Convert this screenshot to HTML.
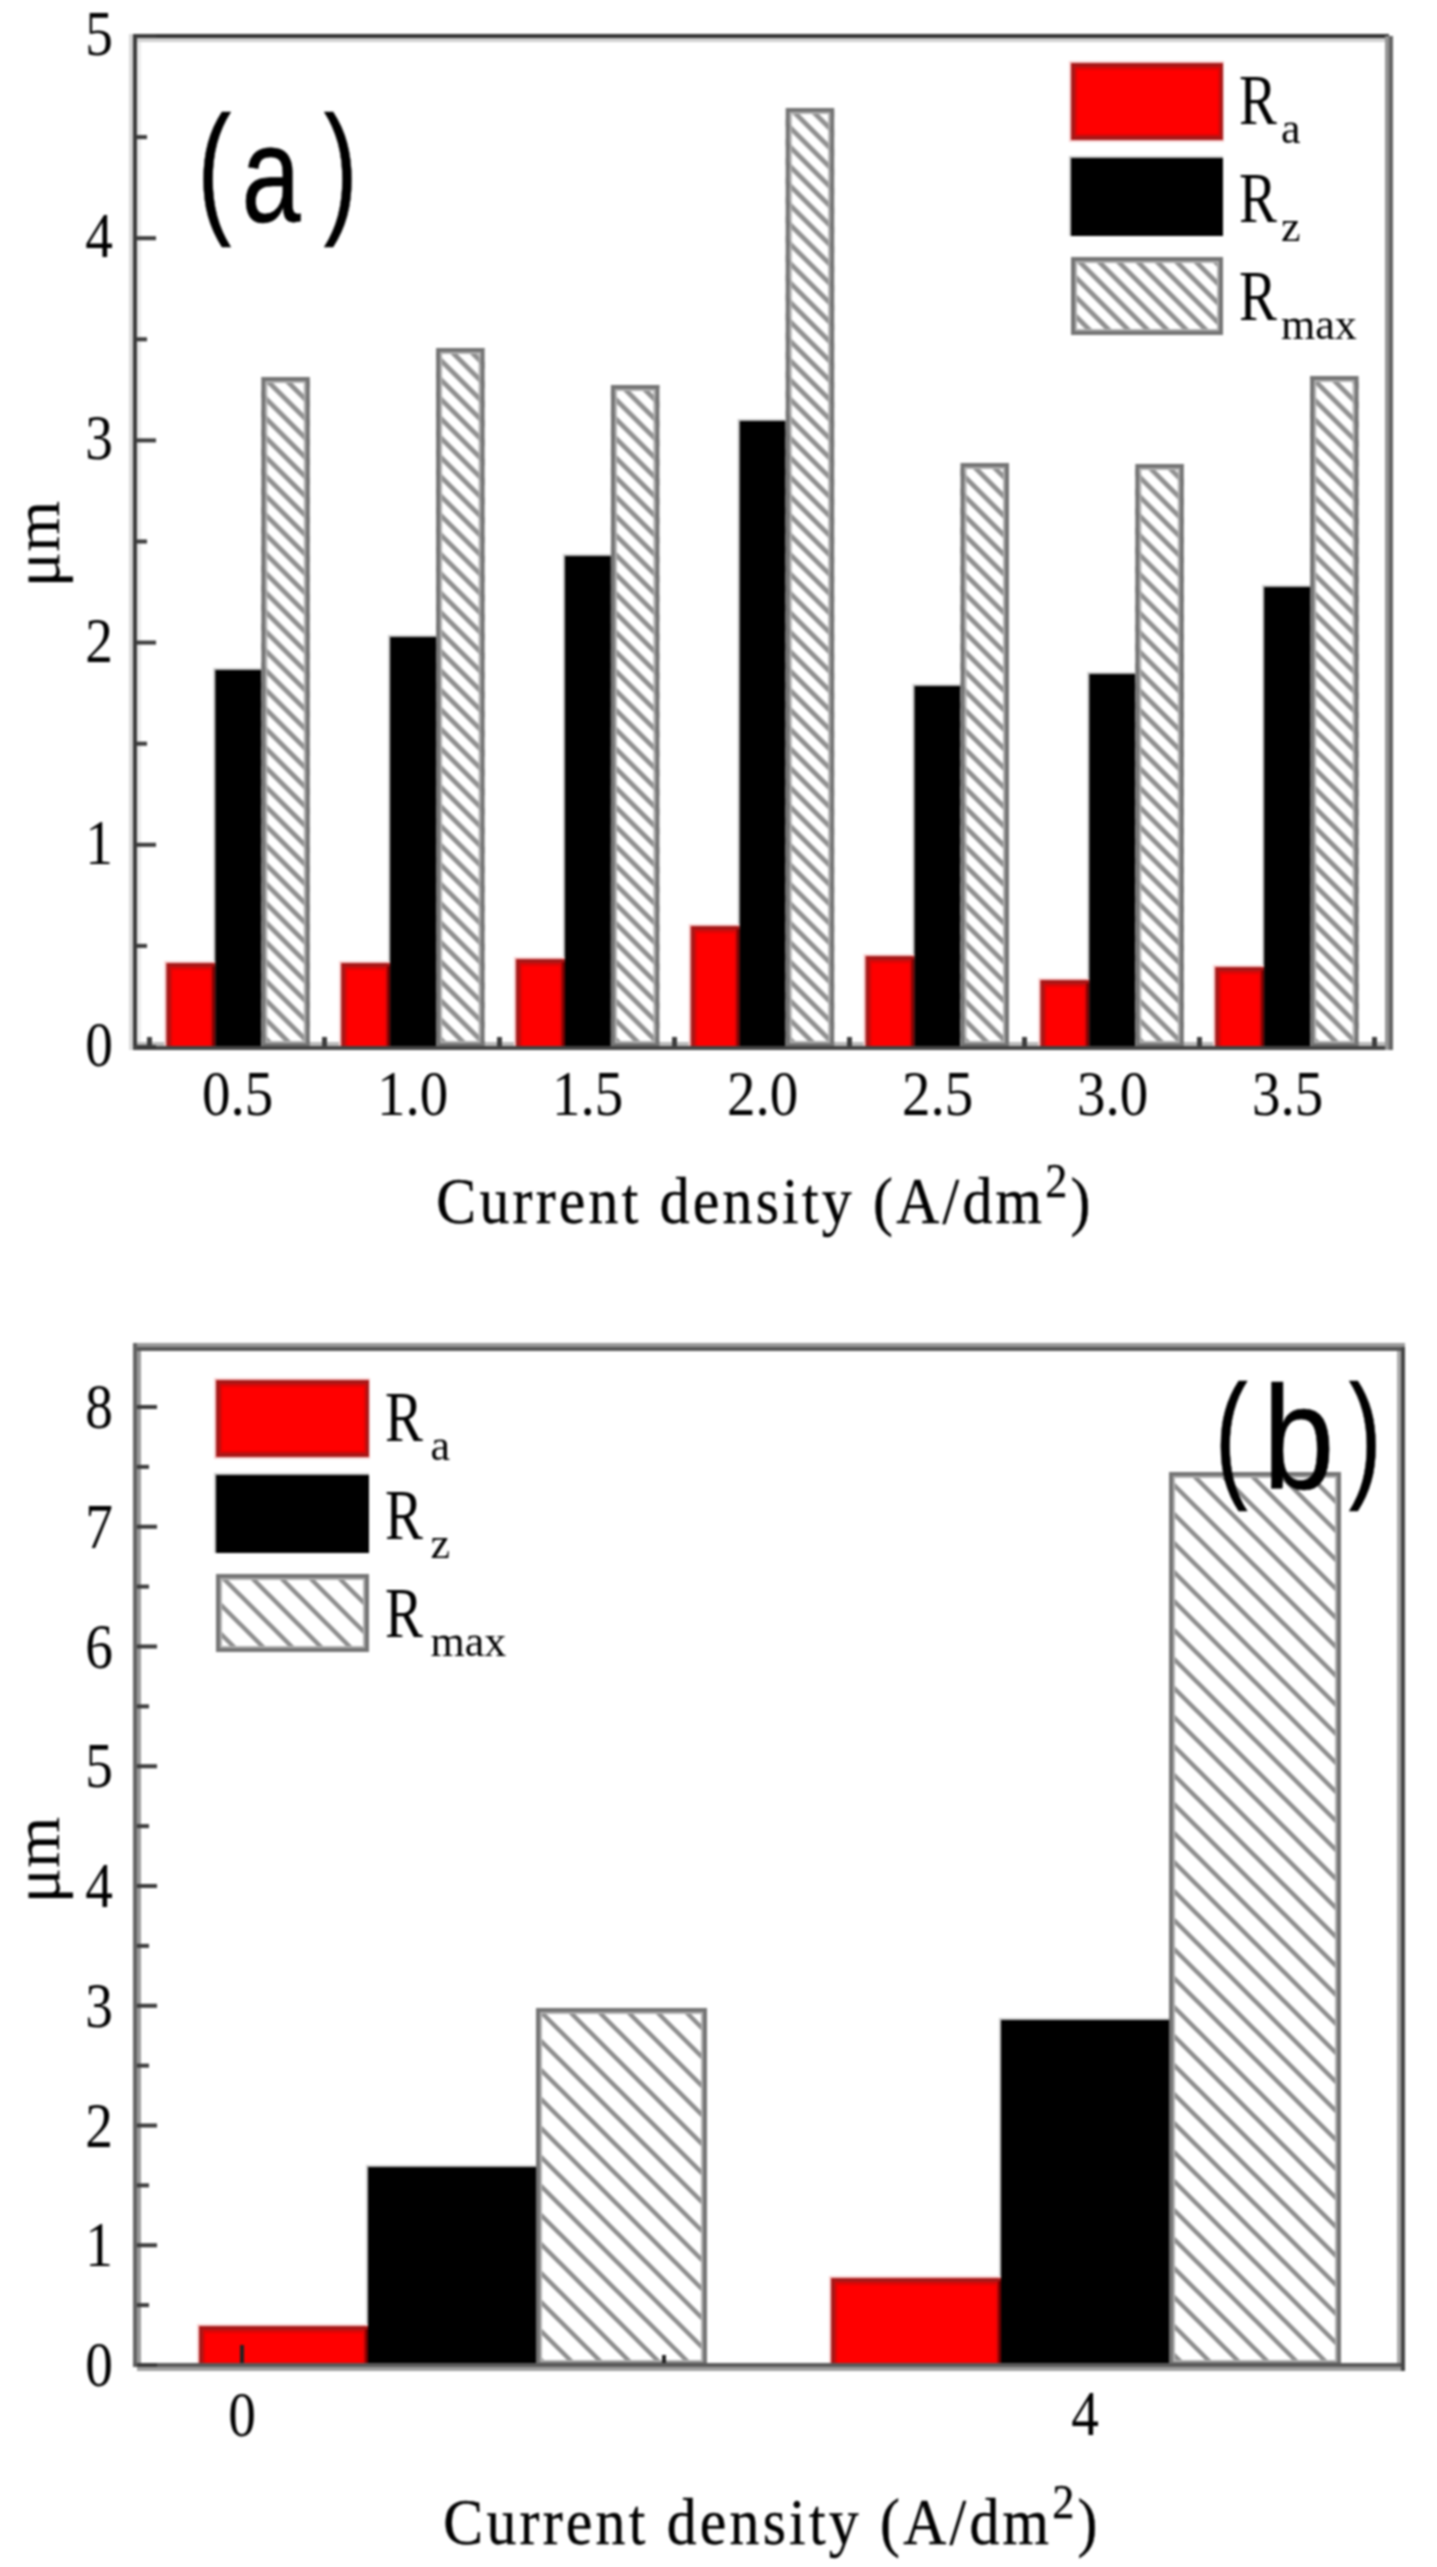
<!DOCTYPE html>
<html><head><meta charset="utf-8"><title>Surface roughness vs current density</title><style>html,body{margin:0;padding:0;background:#fff;overflow:hidden;}svg{display:block;filter:blur(1.2px);}</style></head><body>
<svg width="1437" height="2567" viewBox="0 0 1437 2567">
<defs>
<pattern id="ha" patternUnits="userSpaceOnUse" x="3" y="0" width="19.4" height="19.4"><rect width="19.4" height="19.4" fill="#fff"/><path d="M-9.7,9.7 L9.7,29.1 M0,0 L19.4,19.4 M9.7,-9.7 L29.1,9.7" stroke="#8e8e8e" stroke-width="4.8"/></pattern>
<pattern id="hb" patternUnits="userSpaceOnUse" x="8" y="0" width="29" height="29"><rect width="29" height="29" fill="#fff"/><path d="M-14.5,14.5 L14.5,43.5 M0,0 L29,29 M14.5,-14.5 L43.5,14.5" stroke="#8c8c8c" stroke-width="4.4"/></pattern>
</defs>
<rect width="1437" height="2567" fill="#fff"/>
<g fill="#000">
<rect x="129" y="34" width="4" height="1016" fill="#d8d8d8"/>
<rect x="137" y="38" width="4" height="1004" fill="#ececec"/>
<rect x="133" y="38" width="1256" height="4" fill="#d0d0d0"/>
<rect x="137" y="1042" width="1248" height="4" fill="#b8b8b8"/>
<rect x="213.3" y="668" width="48" height="379" fill="#c8c8c8"/>
<rect x="164.3" y="961" width="52" height="86" fill="#f9d0d0"/>
<rect x="166.3" y="963" width="49" height="84" fill="#a81818"/>
<rect x="170.3" y="967" width="42" height="80" fill="#dc0606"/>
<rect x="172.3" y="970" width="38" height="77" fill="#ff0000"/>
<rect x="212.3" y="966" width="3" height="81" fill="#7a0000"/>
<rect x="215.3" y="670" width="46" height="377" fill="#000"/>
<rect x="261.3" y="377" width="48.5" height="670" fill="url(#ha)"/>
<rect x="266.3" y="382" width="38.5" height="660" fill="none" stroke="#b0b0b0" stroke-width="2"/>
<rect x="263.3" y="379" width="44.5" height="666" fill="none" stroke="#747474" stroke-width="4"/>
<rect x="388.1" y="635" width="48" height="412" fill="#c8c8c8"/>
<rect x="339.1" y="961" width="52" height="86" fill="#f9d0d0"/>
<rect x="341.1" y="963" width="49" height="84" fill="#a81818"/>
<rect x="345.1" y="967" width="42" height="80" fill="#dc0606"/>
<rect x="347.1" y="970" width="38" height="77" fill="#ff0000"/>
<rect x="387.1" y="966" width="3" height="81" fill="#7a0000"/>
<rect x="390.1" y="637" width="46" height="410" fill="#000"/>
<rect x="436.1" y="348" width="48.5" height="699" fill="url(#ha)"/>
<rect x="441.1" y="353" width="38.5" height="689" fill="none" stroke="#b0b0b0" stroke-width="2"/>
<rect x="438.1" y="350" width="44.5" height="695" fill="none" stroke="#747474" stroke-width="4"/>
<rect x="562.9" y="554" width="48" height="493" fill="#c8c8c8"/>
<rect x="513.9" y="957" width="52" height="90" fill="#f9d0d0"/>
<rect x="515.9" y="959" width="49" height="88" fill="#a81818"/>
<rect x="519.9" y="963" width="42" height="84" fill="#dc0606"/>
<rect x="521.9" y="966" width="38" height="81" fill="#ff0000"/>
<rect x="561.9" y="962" width="3" height="85" fill="#7a0000"/>
<rect x="564.9" y="556" width="46" height="491" fill="#000"/>
<rect x="610.9" y="385" width="48.5" height="662" fill="url(#ha)"/>
<rect x="615.9" y="390" width="38.5" height="652" fill="none" stroke="#b0b0b0" stroke-width="2"/>
<rect x="612.9" y="387" width="44.5" height="658" fill="none" stroke="#747474" stroke-width="4"/>
<rect x="737.7" y="419" width="48" height="628" fill="#c8c8c8"/>
<rect x="688.7" y="924" width="52" height="123" fill="#f9d0d0"/>
<rect x="690.7" y="926" width="49" height="121" fill="#a81818"/>
<rect x="694.7" y="930" width="42" height="117" fill="#dc0606"/>
<rect x="696.7" y="933" width="38" height="114" fill="#ff0000"/>
<rect x="736.7" y="929" width="3" height="118" fill="#7a0000"/>
<rect x="739.7" y="421" width="46" height="626" fill="#000"/>
<rect x="785.7" y="108" width="48.5" height="939" fill="url(#ha)"/>
<rect x="790.7" y="113" width="38.5" height="929" fill="none" stroke="#b0b0b0" stroke-width="2"/>
<rect x="787.7" y="110" width="44.5" height="935" fill="none" stroke="#747474" stroke-width="4"/>
<rect x="912.5" y="684" width="48" height="363" fill="#c8c8c8"/>
<rect x="863.5" y="954" width="52" height="93" fill="#f9d0d0"/>
<rect x="865.5" y="956" width="49" height="91" fill="#a81818"/>
<rect x="869.5" y="960" width="42" height="87" fill="#dc0606"/>
<rect x="871.5" y="963" width="38" height="84" fill="#ff0000"/>
<rect x="911.5" y="959" width="3" height="88" fill="#7a0000"/>
<rect x="914.5" y="686" width="46" height="361" fill="#000"/>
<rect x="960.5" y="463" width="48.5" height="584" fill="url(#ha)"/>
<rect x="965.5" y="468" width="38.5" height="574" fill="none" stroke="#b0b0b0" stroke-width="2"/>
<rect x="962.5" y="465" width="44.5" height="580" fill="none" stroke="#747474" stroke-width="4"/>
<rect x="1087.3" y="672" width="48" height="375" fill="#c8c8c8"/>
<rect x="1038.3" y="978" width="52" height="69" fill="#f9d0d0"/>
<rect x="1040.3" y="980" width="49" height="67" fill="#a81818"/>
<rect x="1044.3" y="984" width="42" height="63" fill="#dc0606"/>
<rect x="1046.3" y="987" width="38" height="60" fill="#ff0000"/>
<rect x="1086.3" y="983" width="3" height="64" fill="#7a0000"/>
<rect x="1089.3" y="674" width="46" height="373" fill="#000"/>
<rect x="1135.3" y="464" width="48.5" height="583" fill="url(#ha)"/>
<rect x="1140.3" y="469" width="38.5" height="573" fill="none" stroke="#b0b0b0" stroke-width="2"/>
<rect x="1137.3" y="466" width="44.5" height="579" fill="none" stroke="#747474" stroke-width="4"/>
<rect x="1262.1" y="585" width="48" height="462" fill="#c8c8c8"/>
<rect x="1213.1" y="965" width="52" height="82" fill="#f9d0d0"/>
<rect x="1215.1" y="967" width="49" height="80" fill="#a81818"/>
<rect x="1219.1" y="971" width="42" height="76" fill="#dc0606"/>
<rect x="1221.1" y="974" width="38" height="73" fill="#ff0000"/>
<rect x="1261.1" y="970" width="3" height="77" fill="#7a0000"/>
<rect x="1264.1" y="587" width="46" height="460" fill="#000"/>
<rect x="1310.1" y="376" width="48.5" height="671" fill="url(#ha)"/>
<rect x="1315.1" y="381" width="38.5" height="661" fill="none" stroke="#b0b0b0" stroke-width="2"/>
<rect x="1312.1" y="378" width="44.5" height="667" fill="none" stroke="#747474" stroke-width="4"/>
<rect x="133" y="34" width="1256" height="4" fill="#333333"/>
<rect x="133" y="34" width="4" height="1016" fill="#3a3a3a"/>
<rect x="133" y="1046" width="1256" height="4" fill="#444444"/>
<rect x="1385" y="36" width="4" height="1014" fill="#959595"/>
<rect x="1389" y="36" width="4" height="1014" fill="#636363"/>
<rect x="137" y="1045" width="19" height="4" fill="#3a3a3a"/>
<text transform="translate(113,1066) scale(0.97,1.1)" font-family='"Liberation Serif", serif' font-size="57" text-anchor="end">0</text>
<rect x="137" y="842.8" width="19" height="4" fill="#3a3a3a"/>
<text transform="translate(113,863.8) scale(0.97,1.1)" font-family='"Liberation Serif", serif' font-size="57" text-anchor="end">1</text>
<rect x="137" y="640.6" width="19" height="4" fill="#3a3a3a"/>
<text transform="translate(113,661.6) scale(0.97,1.1)" font-family='"Liberation Serif", serif' font-size="57" text-anchor="end">2</text>
<rect x="137" y="438.4" width="19" height="4" fill="#3a3a3a"/>
<text transform="translate(113,459.4) scale(0.97,1.1)" font-family='"Liberation Serif", serif' font-size="57" text-anchor="end">3</text>
<rect x="137" y="236.2" width="19" height="4" fill="#3a3a3a"/>
<text transform="translate(113,257.2) scale(0.97,1.1)" font-family='"Liberation Serif", serif' font-size="57" text-anchor="end">4</text>
<rect x="137" y="34" width="19" height="4" fill="#3a3a3a"/>
<text transform="translate(113,55) scale(0.97,1.1)" font-family='"Liberation Serif", serif' font-size="57" text-anchor="end">5</text>
<rect x="137" y="943.9" width="10" height="4" fill="#3a3a3a"/>
<rect x="137" y="741.7" width="10" height="4" fill="#3a3a3a"/>
<rect x="137" y="539.5" width="10" height="4" fill="#3a3a3a"/>
<rect x="137" y="337.3" width="10" height="4" fill="#3a3a3a"/>
<rect x="137" y="135.1" width="10" height="4" fill="#3a3a3a"/>
<rect x="147" y="1037" width="5" height="9" fill="#3c3c3c"/>
<rect x="322" y="1037" width="5" height="9" fill="#3c3c3c"/>
<rect x="497" y="1037" width="5" height="9" fill="#3c3c3c"/>
<rect x="672" y="1037" width="5" height="9" fill="#3c3c3c"/>
<rect x="847" y="1037" width="5" height="9" fill="#3c3c3c"/>
<rect x="1022" y="1037" width="5" height="9" fill="#3c3c3c"/>
<rect x="1197" y="1037" width="5" height="9" fill="#3c3c3c"/>
<rect x="1372" y="1037" width="5" height="9" fill="#3c3c3c"/>
<text transform="translate(237.5,1114.5) scale(1,1.1)" font-family='"Liberation Serif", serif' font-size="57" text-anchor="middle">0.5</text>
<text transform="translate(412.5,1114.5) scale(1,1.1)" font-family='"Liberation Serif", serif' font-size="57" text-anchor="middle">1.0</text>
<text transform="translate(587.5,1114.5) scale(1,1.1)" font-family='"Liberation Serif", serif' font-size="57" text-anchor="middle">1.5</text>
<text transform="translate(762.5,1114.5) scale(1,1.1)" font-family='"Liberation Serif", serif' font-size="57" text-anchor="middle">2.0</text>
<text transform="translate(937.5,1114.5) scale(1,1.1)" font-family='"Liberation Serif", serif' font-size="57" text-anchor="middle">2.5</text>
<text transform="translate(1112.5,1114.5) scale(1,1.1)" font-family='"Liberation Serif", serif' font-size="57" text-anchor="middle">3.0</text>
<text transform="translate(1287.5,1114.5) scale(1,1.1)" font-family='"Liberation Serif", serif' font-size="57" text-anchor="middle">3.5</text>
<text transform="translate(765,1222.5) scale(0.92,1)" font-family='"Liberation Serif", serif' font-size="65" text-anchor="middle" letter-spacing="3.5" stroke="#000" stroke-width="0.4">Current density (A/dm<tspan font-size="48" dy="-26">2</tspan><tspan dy="26">)</tspan></text>
<text transform="translate(59,544) rotate(-90)" font-family='"Liberation Serif", serif' font-size="66" text-anchor="middle">μm</text>
<text transform="translate(197.2,217.3) scale(0.71,1)" font-family='"Liberation Sans", sans-serif' font-size="144" text-anchor="start" stroke="#000" stroke-width="0.6">(</text>
<text transform="translate(241.6,221.5) scale(0.776,1)" font-family='"Liberation Sans", sans-serif' font-size="137" text-anchor="start" stroke="#000" stroke-width="0.6">a</text>
<text transform="translate(323.7,217.3) scale(0.71,1)" font-family='"Liberation Sans", sans-serif' font-size="144" text-anchor="start" stroke="#000" stroke-width="0.6">)</text>
<rect x="1069" y="61" width="155" height="81" fill="#f9d0d0"/>
<rect x="1071" y="63" width="152" height="77" fill="#a81818"/>
<rect x="1075" y="67" width="145" height="69" fill="#dc0606"/>
<rect x="1077" y="70" width="141" height="64" fill="#ff0000"/>
<rect x="1069" y="156" width="154" height="80" fill="#c8c8c8"/>
<rect x="1071" y="158" width="152" height="78" fill="#000"/>
<rect x="1071" y="257" width="152" height="78" fill="url(#ha)"/>
<rect x="1076" y="262" width="142" height="68" fill="none" stroke="#b0b0b0" stroke-width="2"/>
<rect x="1073" y="259" width="148" height="74" fill="none" stroke="#747474" stroke-width="4"/>
<text transform="translate(1239,123.5) scale(0.86,1.1)" font-family='"Liberation Serif", serif' font-size="66" text-anchor="start">R</text>
<text x="1281" y="142.5" font-family='"Liberation Serif", serif' font-size="44" text-anchor="start">a</text>
<text transform="translate(1239,221.5) scale(0.86,1.1)" font-family='"Liberation Serif", serif' font-size="66" text-anchor="start">R</text>
<text x="1281" y="240.5" font-family='"Liberation Serif", serif' font-size="44" text-anchor="start">z</text>
<text transform="translate(1239,319.5) scale(0.86,1.1)" font-family='"Liberation Serif", serif' font-size="66" text-anchor="start">R</text>
<text x="1281" y="338.5" font-family='"Liberation Serif", serif' font-size="44" text-anchor="start">max</text>
<rect x="133" y="1343" width="1272" height="4" fill="#999999"/>
<rect x="137" y="1351" width="4" height="1012" fill="#9a9a9a"/>
<rect x="1397" y="1351" width="4" height="1012" fill="#aaaaaa"/>
<rect x="366" y="2165" width="172" height="201" fill="#c8c8c8"/>
<rect x="197" y="2324" width="172" height="42" fill="#f9d0d0"/>
<rect x="199" y="2326" width="169" height="40" fill="#a81818"/>
<rect x="203" y="2330" width="162" height="36" fill="#dc0606"/>
<rect x="205" y="2333" width="158" height="33" fill="#ff0000"/>
<rect x="365" y="2329" width="3" height="37" fill="#7a0000"/>
<rect x="368" y="2167" width="170" height="199" fill="#000"/>
<rect x="536" y="2008" width="171" height="358" fill="url(#hb)"/>
<rect x="541" y="2013" width="161" height="348" fill="none" stroke="#b0b0b0" stroke-width="2"/>
<rect x="538" y="2010" width="167" height="354" fill="none" stroke="#747474" stroke-width="4"/>
<rect x="999" y="2018" width="172" height="348" fill="#c8c8c8"/>
<rect x="829" y="2276" width="173" height="90" fill="#f9d0d0"/>
<rect x="831" y="2278" width="170" height="88" fill="#a81818"/>
<rect x="835" y="2282" width="163" height="84" fill="#dc0606"/>
<rect x="837" y="2285" width="159" height="81" fill="#ff0000"/>
<rect x="998" y="2281" width="3" height="85" fill="#7a0000"/>
<rect x="1001" y="2020" width="170" height="346" fill="#000"/>
<rect x="1169" y="1472" width="172" height="894" fill="url(#hb)"/>
<rect x="1174" y="1477" width="162" height="884" fill="none" stroke="#b0b0b0" stroke-width="2"/>
<rect x="1171" y="1474" width="168" height="890" fill="none" stroke="#747474" stroke-width="4"/>
<rect x="133" y="1347" width="1268" height="4" fill="#585858"/>
<rect x="133" y="1343" width="4" height="1024" fill="#636363"/>
<rect x="133" y="2363" width="1272" height="4" fill="#5a5a5a"/>
<rect x="137" y="2367" width="1264" height="4" fill="#9e9e9e"/>
<rect x="1401" y="1347" width="4" height="1024" fill="#454545"/>
<rect x="137" y="2363" width="20" height="4" fill="#3a3a3a"/>
<text transform="translate(113,2386) scale(0.97,1.1)" font-family='"Liberation Serif", serif' font-size="57" text-anchor="end">0</text>
<rect x="137" y="2243.25" width="20" height="4" fill="#3a3a3a"/>
<text transform="translate(113,2266.25) scale(0.97,1.1)" font-family='"Liberation Serif", serif' font-size="57" text-anchor="end">1</text>
<rect x="137" y="2123.5" width="20" height="4" fill="#3a3a3a"/>
<text transform="translate(113,2146.5) scale(0.97,1.1)" font-family='"Liberation Serif", serif' font-size="57" text-anchor="end">2</text>
<rect x="137" y="2003.75" width="20" height="4" fill="#3a3a3a"/>
<text transform="translate(113,2026.75) scale(0.97,1.1)" font-family='"Liberation Serif", serif' font-size="57" text-anchor="end">3</text>
<rect x="137" y="1884" width="20" height="4" fill="#3a3a3a"/>
<text transform="translate(113,1907) scale(0.97,1.1)" font-family='"Liberation Serif", serif' font-size="57" text-anchor="end">4</text>
<rect x="137" y="1764.25" width="20" height="4" fill="#3a3a3a"/>
<text transform="translate(113,1787.25) scale(0.97,1.1)" font-family='"Liberation Serif", serif' font-size="57" text-anchor="end">5</text>
<rect x="137" y="1644.5" width="20" height="4" fill="#3a3a3a"/>
<text transform="translate(113,1667.5) scale(0.97,1.1)" font-family='"Liberation Serif", serif' font-size="57" text-anchor="end">6</text>
<rect x="137" y="1524.75" width="20" height="4" fill="#3a3a3a"/>
<text transform="translate(113,1547.75) scale(0.97,1.1)" font-family='"Liberation Serif", serif' font-size="57" text-anchor="end">7</text>
<rect x="137" y="1405" width="20" height="4" fill="#3a3a3a"/>
<text transform="translate(113,1428) scale(0.97,1.1)" font-family='"Liberation Serif", serif' font-size="57" text-anchor="end">8</text>
<rect x="137" y="2303.12" width="12" height="4" fill="#3a3a3a"/>
<rect x="137" y="2183.38" width="12" height="4" fill="#3a3a3a"/>
<rect x="137" y="2063.62" width="12" height="4" fill="#3a3a3a"/>
<rect x="137" y="1943.88" width="12" height="4" fill="#3a3a3a"/>
<rect x="137" y="1824.12" width="12" height="4" fill="#3a3a3a"/>
<rect x="137" y="1704.38" width="12" height="4" fill="#3a3a3a"/>
<rect x="137" y="1584.62" width="12" height="4" fill="#3a3a3a"/>
<rect x="137" y="1464.88" width="12" height="4" fill="#3a3a3a"/>
<rect x="240" y="2345" width="4" height="18" fill="#222"/>
<rect x="662" y="2355" width="4" height="8" fill="#222"/>
<text transform="translate(242,2435.5) scale(0.97,1.1)" font-family='"Liberation Serif", serif' font-size="57" text-anchor="middle">0</text>
<text transform="translate(1085,2434.5) scale(0.97,1.1)" font-family='"Liberation Serif", serif' font-size="57" text-anchor="middle">4</text>
<text transform="translate(772,2543.5) scale(0.92,1)" font-family='"Liberation Serif", serif' font-size="65" text-anchor="middle" letter-spacing="3.5" stroke="#000" stroke-width="0.4">Current density (A/dm<tspan font-size="48" dy="-26">2</tspan><tspan dy="26">)</tspan></text>
<text transform="translate(59,1860) rotate(-90)" font-family='"Liberation Serif", serif' font-size="66" text-anchor="middle">μm</text>
<text transform="translate(1214.85,1482.1) scale(0.71,1)" font-family='"Liberation Sans", sans-serif' font-size="139.6" text-anchor="start" stroke="#000" stroke-width="0.6">(</text>
<text transform="translate(1263,1488) scale(0.88,1)" font-family='"Liberation Sans", sans-serif' font-size="146" text-anchor="start" stroke="#000" stroke-width="0.6">b</text>
<text transform="translate(1348.8,1482.1) scale(0.71,1)" font-family='"Liberation Sans", sans-serif' font-size="139.6" text-anchor="start" stroke="#000" stroke-width="0.6">)</text>
<rect x="214" y="1378" width="156" height="81" fill="#f9d0d0"/>
<rect x="216" y="1380" width="153" height="77" fill="#a81818"/>
<rect x="220" y="1384" width="146" height="69" fill="#dc0606"/>
<rect x="222" y="1387" width="142" height="64" fill="#ff0000"/>
<rect x="214" y="1473" width="155" height="80" fill="#c8c8c8"/>
<rect x="216" y="1475" width="153" height="78" fill="#000"/>
<rect x="216" y="1574" width="153" height="78" fill="url(#hb)"/>
<rect x="221" y="1579" width="143" height="68" fill="none" stroke="#b0b0b0" stroke-width="2"/>
<rect x="218" y="1576" width="149" height="74" fill="none" stroke="#747474" stroke-width="4"/>
<text transform="translate(385,1440.5) scale(0.86,1.1)" font-family='"Liberation Serif", serif' font-size="66" text-anchor="start">R</text>
<text x="430.5" y="1459.5" font-family='"Liberation Serif", serif' font-size="44" text-anchor="start">a</text>
<text transform="translate(385,1538.5) scale(0.86,1.1)" font-family='"Liberation Serif", serif' font-size="66" text-anchor="start">R</text>
<text x="430.5" y="1557.5" font-family='"Liberation Serif", serif' font-size="44" text-anchor="start">z</text>
<text transform="translate(385,1636.5) scale(0.86,1.1)" font-family='"Liberation Serif", serif' font-size="66" text-anchor="start">R</text>
<text x="430.5" y="1655.5" font-family='"Liberation Serif", serif' font-size="44" text-anchor="start">max</text>
</g>
</svg>
</body></html>
